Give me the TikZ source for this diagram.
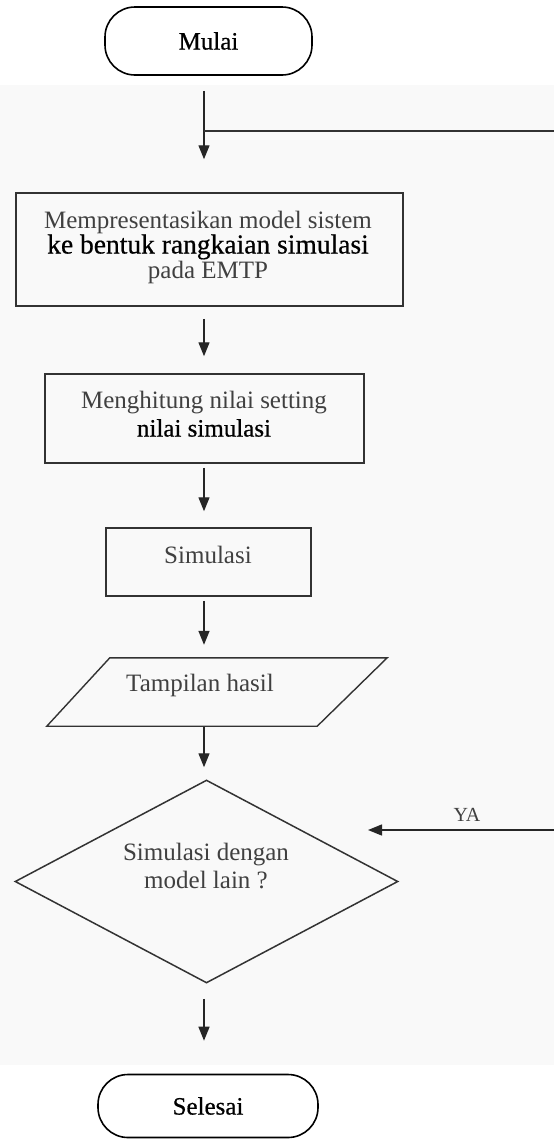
\documentclass[tikz,border=0pt]{standalone}
\usepackage{fontspec}
\setmainfont{Liberation Serif}
\usetikzlibrary{arrows.meta,shapes.geometric,calc}
\newcommand{\heavytxt}[1]{{\addfontfeature{FakeBold=0.6}#1}}
\tikzset{
  arr/.style={draw=black!85, line width=1.4pt, -{Triangle[length=14pt,width=11pt]}},
  plain/.style={draw=black!80, line width=1.4pt},
  proc/.style={draw=black!80, line width=1.5pt, rectangle, inner sep=0pt},
  term/.style={draw=black, line width=1.6pt, rectangle, rounded corners=30pt, inner sep=0pt,
               font=\fontsize{25}{27}\selectfont, text=black},
  txt/.style={text=black!75, font=\fontsize{25}{27}\selectfont, align=center, inner sep=0pt},
  ghost/.style={rectangle, inner sep=0pt, draw=none},
  dec/.style={draw=black!80, line width=1.5pt, diamond, inner sep=0pt},
  lbl/.style={text=black!75, font=\fontsize{20}{22}\selectfont, inner sep=0pt}
}
\begin{document}
\begin{tikzpicture}[x=1pt,y=-1pt]
\useasboundingbox (0,0) rectangle (554,1141);
\fill[black!2.5] (0,85) rectangle (554,1065);

\coordinate (spine) at (204,0);
\coordinate (loopR) at (554,131);
\coordinate (yaR) at (554,830);
\coordinate (yaEnd) at (368,830);

% terminals
\node[term, minimum width=207pt, minimum height=68pt] (start) at (208.5,41) {\heavytxt{Mulai}};
\node[term, minimum width=220pt, minimum height=63pt] (stop) at (208,1106) {\heavytxt{Selesai}};

% process boxes
\node[proc, minimum width=387pt, minimum height=113pt] (b1) at (209.5,249.5) {};
\node[txt, font=\fontsize{25}{25}\selectfont] (b1t) at (208,247.5)
  {Mempresentasikan model sistem\\ \textcolor{black}{\fontsize{27.5}{25}\selectfont\heavytxt{ke bentuk rangkaian simulasi}}\\ pada EMTP};

\node[proc, minimum width=319pt, minimum height=89pt] (b2) at (204.5,418.5) {};
\node[txt, font=\fontsize{25}{28}\selectfont] (b2t) at (204,414)
  {Menghitung nilai setting\\ \textcolor{black}{\heavytxt{nilai simulasi}}};

\node[proc, minimum width=205pt, minimum height=68pt] (b3) at (208.5,562) {};
\node[txt] (b3t) at (208,555) {Simulasi};

% data (parallelogram)
\node[ghost, minimum width=340pt, minimum height=68pt] (par) at (217,692) {};
\draw[plain] (par.south west) -- ($(par.north west)+(63,0)$) -- (par.north east)
  -- ($(par.south east)+(-70,0)$) -- cycle;
\node[txt] (part) at (200,685) {Tampilan hasil};

% decision
\node[dec, minimum width=383pt, minimum height=203pt] (d) at (206.5,881.5) {};
\node[txt, font=\fontsize{25}{28}\selectfont] (dt) at (206,866) {Simulasi dengan\\ model lain ?};

% connectors
\draw[arr, shorten <=15pt, shorten >=33pt] (start.south -| spine) -- (b1.north -| spine);
\draw[plain] (loopR) -- (loopR -| spine);
\draw[arr, shorten <=12pt, shorten >=17pt] (b1.south -| spine) -- (b2.north -| spine);
\draw[arr, shorten <=4pt, shorten >=16pt] (b2.south -| spine) -- (b3.north -| spine);
\draw[arr, shorten <=4pt, shorten >=13pt] (b3.south -| spine) -- (par.north -| spine);
\draw[arr, shorten <=1pt, shorten >=12pt] (par.south -| spine) -- (d.north -| spine);
\draw[arr, shorten <=15pt, shorten >=33pt] (d.south -| spine) -- (stop.north -| spine);
\draw[arr] (yaR) -- (yaEnd);
\node[lbl] (ya) at (467,815) {YA};
\end{tikzpicture}
\end{document}
